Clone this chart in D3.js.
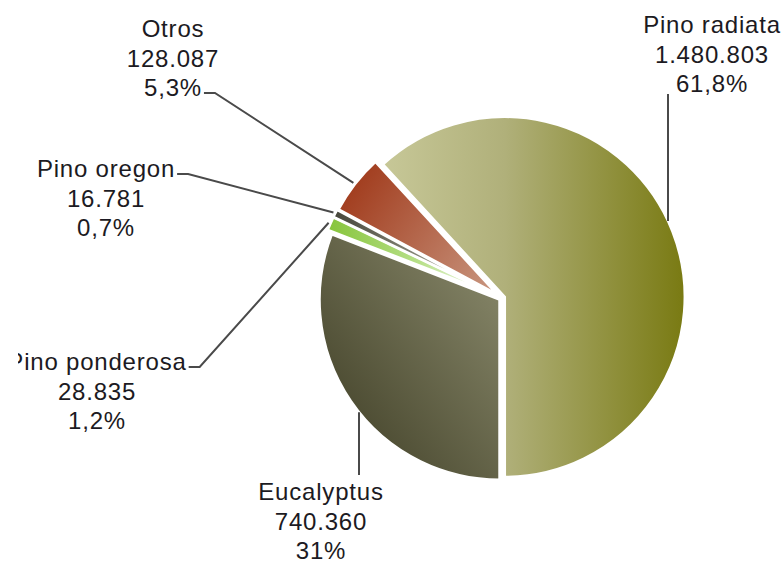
<!DOCTYPE html>
<html>
<head>
<meta charset="utf-8">
<script src="https://cdn.jsdelivr.net/npm/d3@7"></script>
<style>
  body { margin: 0; background: #fff; }
  text { font-family: "Liberation Sans", Arial, sans-serif; font-size: 24px; letter-spacing: 0.8px; fill: #1c1a22; }
</style>
</head>
<body>
<div id="chart"></div>
<script>
// species, volume and share, in clockwise order from 6 o'clock
var species = ["Eucalyptus", "Pino ponderosa", "Pino oregon", "Otros", "Pino radiata"];
var volumes = [740360, 28835, 16781, 128087, 1480803];
var volumeLabels = ["740.360", "28.835", "16.781", "128.087", "1.480.803"];
var shareLabels = ["31%", "1,2%", "0,7%", "5,3%", "61,8%"];

var width = 784, height = 563;
var cx = 502, cy = 298, r = 180;

// how far each slice is pulled out of the pie
var explode = [3, 7, 7, 6, 3];

// label layout: text centre, first baseline, which line the leader starts from
var labelPos = [
  {x: 321, y: 500, kind: "up", lx: 359},
  {x: 97, y: 370, kind: "side", line: 0, clip: 18},
  {x: 106, y: 177, kind: "side", line: 0},
  {x: 173, y: 37, kind: "side", line: 2},
  {x: 712, y: 33, kind: "down", lx: 668}
];
var lineGap = 29.5;

var svg = d3.select("#chart").append("svg")
  .attr("width", width)
  .attr("height", height);

var defs = svg.append("defs");

var g1 = defs.append("linearGradient").attr("id", "gEuc")
  .attr("x1", 0).attr("y1", 1).attr("x2", 1).attr("y2", 0);
g1.append("stop").attr("offset", "0%").attr("stop-color", "#3b3a22");
g1.append("stop").attr("offset", "100%").attr("stop-color", "#8c8c6e");

var g2 = defs.append("linearGradient").attr("id", "gOtros")
  .attr("x1", 0).attr("y1", 0.2).attr("x2", 1).attr("y2", 0.8);
g2.append("stop").attr("offset", "0%").attr("stop-color", "#a0391a");
g2.append("stop").attr("offset", "100%").attr("stop-color", "#c69079");

// radiata gradient runs across the whole pie, in the pie group's own coordinates
var g3 = defs.append("linearGradient").attr("id", "gRad")
  .attr("gradientUnits", "userSpaceOnUse")
  .attr("x1", -r).attr("y1", 0).attr("x2", r).attr("y2", 0);
g3.append("stop").attr("offset", "0%").attr("stop-color", "#d2d3a6");
g3.append("stop").attr("offset", "50%").attr("stop-color", "#b0b07a");
g3.append("stop").attr("offset", "100%").attr("stop-color", "#797a12");

var g4 = defs.append("linearGradient").attr("id", "gPond")
  .attr("x1", 1).attr("y1", 0.5).attr("x2", 0).attr("y2", 0.5);
g4.append("stop").attr("offset", "0%").attr("stop-color", "#ffffff");
g4.append("stop").attr("offset", "45%").attr("stop-color", "#b8e08a");
g4.append("stop").attr("offset", "100%").attr("stop-color", "#86c43a");

var g5 = defs.append("linearGradient").attr("id", "gOre")
  .attr("x1", 1).attr("y1", 0.5).attr("x2", 0).attr("y2", 0.5);
g5.append("stop").attr("offset", "0%").attr("stop-color", "#ffffff");
g5.append("stop").attr("offset", "45%").attr("stop-color", "#8a8a7c");
g5.append("stop").attr("offset", "100%").attr("stop-color", "#45453a");

var fills = ["url(#gEuc)", "url(#gPond)", "url(#gOre)", "url(#gOtros)", "url(#gRad)"];

defs.append("clipPath").attr("id", "leftClip")
  .append("rect").attr("x", 18).attr("y", 0).attr("width", width).attr("height", height);

var pie = d3.pie().sort(null).startAngle(Math.PI).endAngle(3 * Math.PI);
var arcs = pie(volumes);

var arc = d3.arc().innerRadius(0).outerRadius(r);

function offsetOf(d, i) {
  var a = (d.startAngle + d.endAngle) / 2;
  return [explode[i] * Math.sin(a), -explode[i] * Math.cos(a)];
}

var pieG = svg.append("g").attr("transform", "translate(" + cx + "," + cy + ")");

pieG.selectAll("path")
  .data(arcs)
  .enter().append("path")
  .attr("d", arc)
  .attr("transform", function(d, i) {
    var o = offsetOf(d, i);
    return "translate(" + o[0] + "," + o[1] + ")";
  })
  .attr("fill", function(d, i) { return fills[i]; })
  .attr("stroke", "#fff")
  .attr("stroke-width", 2.5)
  .attr("stroke-linejoin", "miter");

// labels
var labels = svg.append("g");

arcs.forEach(function(d, i) {
  var p = labelPos[i];
  var lines = [species[i], volumeLabels[i], shareLabels[i]];
  var t = labels.append("g");
  if (p.clip) t.attr("clip-path", "url(#leftClip)");
  var nodes = [];
  lines.forEach(function(s, k) {
    var tx = t.append("text")
      .attr("x", p.x)
      .attr("y", p.y + k * lineGap)
      .attr("text-anchor", "middle")
      .text(s);
    nodes.push(tx.node());
  });

  var o = offsetOf(d, i);
  var pcx = cx + o[0], pcy = cy + o[1];
  var pts;
  if (p.kind == "side") {
    var a = (d.startAngle + d.endAngle) / 2;
    var ex = pcx + (r + 2) * Math.sin(a);
    var ey = pcy - (r + 2) * Math.cos(a);
    var w = nodes[p.line].getComputedTextLength();
    var sx = p.x + w / 2 + 2;
    var sy = p.y + p.line * lineGap - 3;
    pts = [[sx, sy], [sx + 11, sy], [ex, ey]];
  } else if (p.kind == "down") {
    var dy = Math.sqrt(r * r - (p.lx - pcx) * (p.lx - pcx));
    pts = [[p.lx, p.y + 2 * lineGap + 2], [p.lx, pcy - dy]];
  } else {
    var dy2 = Math.sqrt(r * r - (p.lx - pcx) * (p.lx - pcx));
    pts = [[p.lx, p.y - 25], [p.lx, pcy + dy2]];
  }
  labels.append("path")
    .attr("d", d3.line()(pts))
    .attr("fill", "none")
    .attr("stroke", "#4a4a4a")
    .attr("stroke-width", 2);
});
</script>
</body>
</html>
